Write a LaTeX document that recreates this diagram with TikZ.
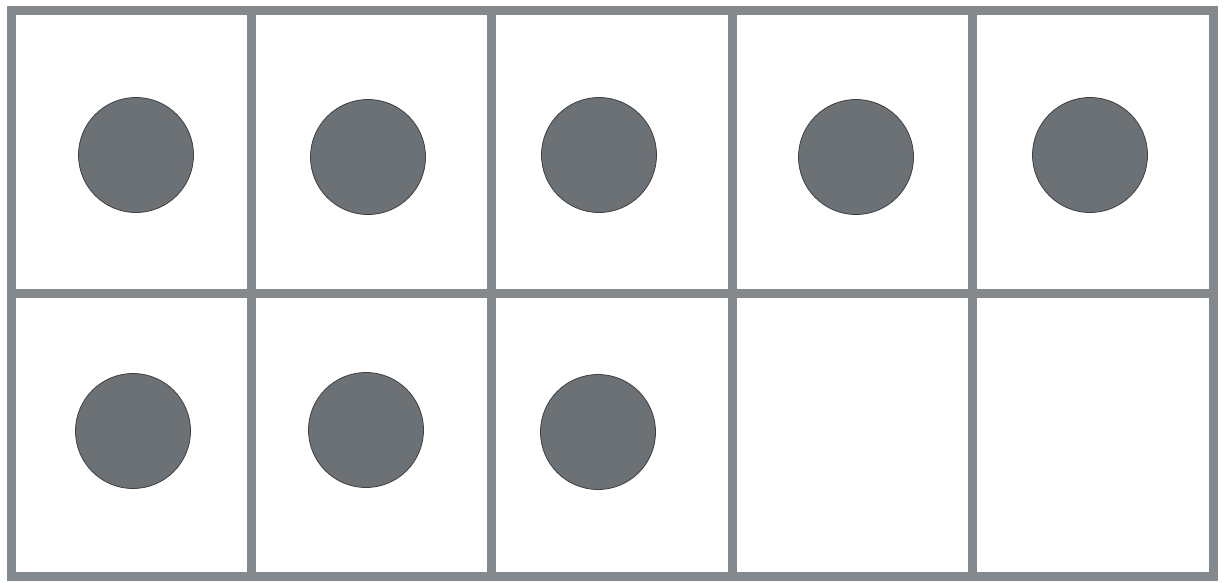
\documentclass[tikz,border=0pt]{standalone}
\usetikzlibrary{positioning}
\definecolor{framegray}{RGB}{132,137,142}
\definecolor{dotgray}{RGB}{108,113,118}

\begin{document}
\begin{tikzpicture}[
    x = 1pt, y = -1pt,
    cell/.style    = {rectangle, draw=framegray,
                      line width=9pt, inner sep=0pt,
                      minimum width=240.4pt,
                      minimum height=283pt},
    counter/.style = {circle, draw=black!75,
                      fill=dotgray, line width=0.8pt,
                      minimum size=115pt, inner sep=0pt}
]
\useasboundingbox (0,0) rectangle (1225,582);

%% Frame cells
\foreach \c in {1,...,5} {
    \node[cell] (top\c) at ({11+240.4*(\c-0.5)},152) {};
    \node[cell] (bot\c) at ({11+240.4*(\c-0.5)},435) {};
}

%% Counters, top row
\foreach \n/\x/\y in {1/136/155, 2/368/157, 3/599/155,
                      4/856/157, 5/1090/155}
    \node[counter] (dot\n) at (\x,\y) {};

%% Counters, bottom row
\foreach \n/\x/\y in {6/133/431, 7/366/430, 8/598/432}
    \node[counter] (dot\n) at (\x,\y) {};
\end{tikzpicture}
\end{document}
